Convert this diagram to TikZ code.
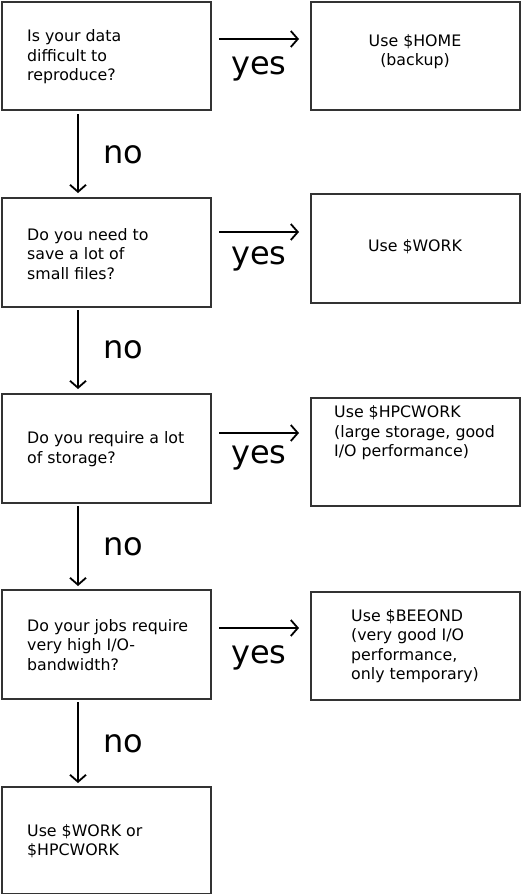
\documentclass[tikz,border=0pt]{standalone}
\usepackage{fontspec}
\setmainfont{DejaVu Sans}
\usetikzlibrary{arrows.meta}
\definecolor{boxline}{HTML}{333333}
\begin{document}
\begin{tikzpicture}[x=1pt,y=-1pt,
  qbox/.style={draw=boxline,line width=1.6pt,anchor=north west,inner sep=0pt},
  txt/.style={inner sep=0pt,font=\fontsize{15.8}{19.5}\selectfont},
  big/.style={inner sep=0pt,font=\fontsize{32}{36}\selectfont,anchor=base},
  flow/.style={line width=1.8pt,-{Straight Barb[length=7pt,width=16pt,line width=1.8pt]}}]
\useasboundingbox (0,0) rectangle (521,894);
% left boxes
\node[qbox,minimum width=209pt,minimum height=108pt] (q1) at (1,1) {};
\node[qbox,minimum width=209pt,minimum height=109pt] (q2) at (1,197) {};
\node[qbox,minimum width=209pt,minimum height=109pt] (q3) at (1,393) {};
\node[qbox,minimum width=209pt,minimum height=109pt] (q4) at (1,589) {};
\node[qbox,minimum width=209pt,minimum height=107pt] (q5) at (1,786) {};
% right boxes
\node[qbox,minimum width=209pt,minimum height=108pt] (a1) at (310,1) {};
\node[qbox,minimum width=209pt,minimum height=109pt] (a2) at (310,193) {};
\node[qbox,minimum width=209pt,minimum height=108pt] (a3) at (310,397) {};
\node[qbox,minimum width=209pt,minimum height=108pt] (a4) at (310,591) {};
% texts
\node[txt,anchor=west,align=left] (t1) at (27,57) {Is your data\\difficult to\\reproduce?};
\node[txt,anchor=west,align=left] (t2) at (27,254) {Do you need to\\save a lot of\\small files?};
\node[txt,anchor=west,align=left] (t3) at (27,449) {Do you require a lot\\of storage?};
\node[txt,anchor=west,align=left] (t4) at (27,645) {Do your jobs require\\very high I/O-\\bandwidth?};
\node[txt,anchor=west,align=left] (t5) at (27,841) {Use \$WORK or\\\$HPCWORK};
\node[txt,align=center] (u1) at (415,51.5) {Use \$HOME\\(backup)};
\node[txt,align=center] (u2) at (415,247) {Use \$WORK};
\node[txt,anchor=west,align=left] (u3) at (334,433) {Use \$HPCWORK\\(large storage, good\\I/O performance)};
\node[txt,anchor=west,align=left] (u4) at (351,646) {Use \$BEEOND\\(very good I/O\\performance,\\only temporary)};
% yes arrows
\coordinate (y1s) at (219,39); \coordinate (y1e) at (299,39);
\coordinate (y2s) at (219,232); \coordinate (y2e) at (299,232);
\coordinate (y3s) at (219,433); \coordinate (y3e) at (299,433);
\coordinate (y4s) at (219,628); \coordinate (y4e) at (299,628);
\draw[flow] (y1s) -- (y1e);
\draw[flow] (y2s) -- (y2e);
\draw[flow] (y3s) -- (y3e);
\draw[flow] (y4s) -- (y4e);
\node[big] (yes1) at (259,74) {yes};
\node[big] (yes2) at (259,264) {yes};
\node[big] (yes3) at (259,463) {yes};
\node[big] (yes4) at (259,663) {yes};
% no arrows
\coordinate (n1s) at (78,114); \coordinate (n1e) at (78,193);
\coordinate (n2s) at (78,310); \coordinate (n2e) at (78,389);
\coordinate (n3s) at (78,506); \coordinate (n3e) at (78,586);
\coordinate (n4s) at (78,702); \coordinate (n4e) at (78,783);
\draw[flow] (n1s) -- (n1e);
\draw[flow] (n2s) -- (n2e);
\draw[flow] (n3s) -- (n3e);
\draw[flow] (n4s) -- (n4e);
\node[big,anchor=base west] (no1) at (103,163) {no};
\node[big,anchor=base west] (no2) at (103,358) {no};
\node[big,anchor=base west] (no3) at (103,555) {no};
\node[big,anchor=base west] (no4) at (103,752) {no};
\end{tikzpicture}
\end{document}
